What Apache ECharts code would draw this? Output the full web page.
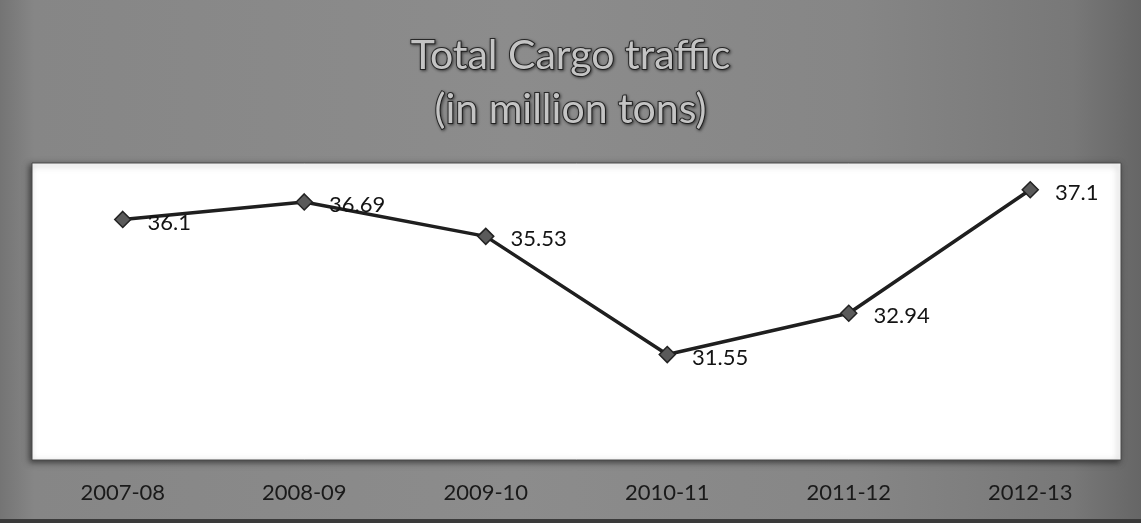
<!DOCTYPE html>
<html>
<head>
<meta charset="utf-8">
<script src="https://cdn.jsdelivr.net/npm/echarts@6/dist/echarts.min.js"></script>
<style>
  html, body { margin: 0; padding: 0; }
  #chart { width: 1141px; height: 523px; }
</style>
</head>
<body>
<div id="chart"></div>
<script>
// Cargo handled per financial year, million tons
const years = ['2007-08', '2008-09', '2009-10', '2010-11', '2011-12', '2012-13'];
const cargo = [36.1, 36.69, 35.53, 31.55, 32.94, 37.1];
const titleLines = ['Total Cargo traffic', '(in million tons)'];

const chart = echarts.init(document.getElementById('chart'));

chart.setOption({
  animation: false,
  backgroundColor: {
    type: 'linear', x: 0, y: 0, x2: 1, y2: 0,
    colorStops: [
      { offset: 0, color: '#747474' },
      { offset: 0.03, color: '#868686' },
      { offset: 0.45, color: '#8c8c8c' },
      { offset: 0.75, color: '#868686' },
      { offset: 0.94, color: '#787878' },
      { offset: 1, color: '#666666' }
    ]
  },
  graphic: [
    {
      type: 'rect', left: 0, bottom: 0,
      shape: { width: 1141, height: 4 },
      style: { fill: '#3a3a3a' }, silent: true
    }
  ],
  title: {
    text: titleLines.join('\n'),
    left: 'center',
    top: 24,
    textStyle: {
      fontFamily: 'Lato',
      fontSize: 41,
      fontWeight: 'normal',
      lineHeight: 54,
      color: '#c4c4c4',
      textBorderColor: '#2a2a2a',
      textBorderWidth: 2,
      textShadowColor: 'rgba(0,0,0,0.45)',
      textShadowBlur: 3,
      textShadowOffsetX: 1,
      textShadowOffsetY: 1
    }
  },
  grid: {
    show: true,
    left: 32,
    right: 20,
    top: 163,
    bottom: 63,
    backgroundColor: '#ffffff',
    borderColor: '#4a4a4a',
    borderWidth: 1,
    shadowColor: 'rgba(0,0,0,0.55)',
    shadowBlur: 6,
    shadowOffsetX: -2,
    shadowOffsetY: 2
  },
  xAxis: {
    type: 'category',
    data: years,
    boundaryGap: true,
    axisLine: { show: false },
    axisTick: { show: false },
    splitLine: { show: false },
    axisLabel: {
      margin: 22,
      fontFamily: 'Lato',
      fontSize: 22,
      color: '#1a1a1a'
    }
  },
  yAxis: {
    type: 'value',
    min: 28,
    max: 38,
    show: false,
    splitLine: { show: false }
  },
  series: [
    {
      type: 'line',
      data: cargo,
      symbol: 'diamond',
      symbolSize: 16,
      lineStyle: { color: '#1f1f1f', width: 3.5 },
      itemStyle: { color: '#5a5a5a', borderColor: '#222222', borderWidth: 1.5 },
      label: {
        show: true,
        position: 'right',
        distance: 16,
        offset: [0, 3],
        fontFamily: 'Lato',
        fontSize: 22,
        color: '#141414'
      }
    }
  ]
});
</script>
</body>
</html>
